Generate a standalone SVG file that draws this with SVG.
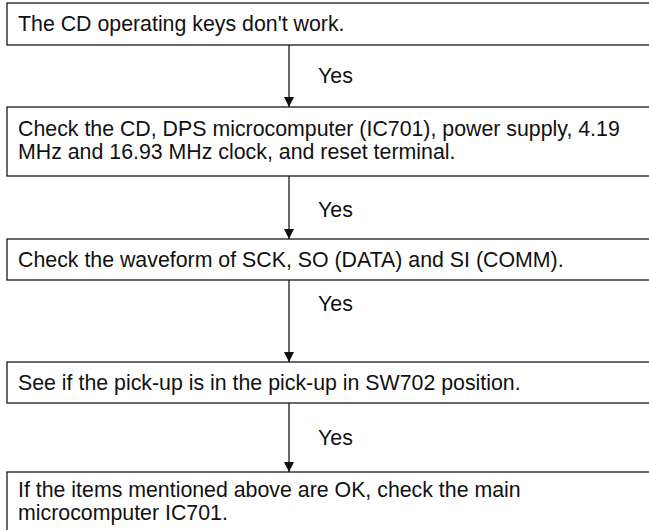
<svg xmlns="http://www.w3.org/2000/svg" width="649" height="530" viewBox="0 0 649 530">
<style>
.box{fill:#fff;stroke:#1a1a1a;stroke-width:1.3}
.t{font-family:"Liberation Sans",Arial,sans-serif;font-size:21.33px;fill:#111}
.c{stroke:#1a1a1a;stroke-width:1.3;fill:none}
</style>
<defs>
<marker id="ah" markerWidth="10" markerHeight="10" refX="10" refY="5" orient="auto" markerUnits="userSpaceOnUse">
<path d="M0,0 L10,5 L0,10 Z" fill="#111"/>
</marker>
</defs>
<rect width="649" height="530" fill="#fff"/>
<g id="connectors">
<line class="c" x1="289" y1="45" x2="289" y2="107" marker-end="url(#ah)"/>
<line class="c" x1="289" y1="176" x2="289" y2="239" marker-end="url(#ah)"/>
<line class="c" x1="289" y1="280" x2="289" y2="362" marker-end="url(#ah)"/>
<line class="c" x1="289" y1="403" x2="289" y2="472" marker-end="url(#ah)"/>
<text class="t" x="318" y="83">Yes</text>
<text class="t" x="318" y="217">Yes</text>
<text class="t" x="318" y="311">Yes</text>
<text class="t" x="318" y="445">Yes</text>
</g>
<g id="n1">
<rect class="box" x="7" y="3" width="660" height="42"/>
<text class="t" x="18" y="31">The CD operating keys don't work.</text>
</g>
<g id="n2">
<rect class="box" x="7" y="107" width="660" height="69"/>
<text class="t" x="18" y="136">Check the CD, DPS microcomputer (IC701), power supply, 4.19</text>
<text class="t" x="18" y="159">MHz and 16.93 MHz clock, and reset terminal.</text>
</g>
<g id="n3">
<rect class="box" x="7" y="239" width="660" height="41"/>
<text class="t" x="18" y="267">Check the waveform of SCK, SO (DATA) and SI (COMM).</text>
</g>
<g id="n4">
<rect class="box" x="7" y="362" width="660" height="41"/>
<text class="t" x="18" y="390">See if the pick-up is in the pick-up in SW702 position.</text>
</g>
<g id="n5">
<rect class="box" x="7" y="472" width="660" height="70"/>
<text class="t" x="18" y="497">If the items mentioned above are OK, check the main</text>
<text class="t" x="18" y="520">microcomputer IC701.</text>
</g>
</svg>
